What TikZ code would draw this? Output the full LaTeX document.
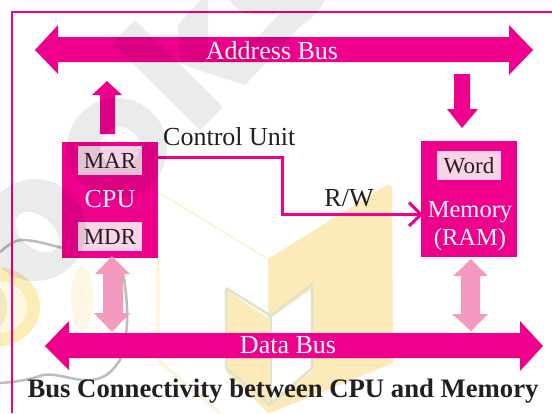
\documentclass[tikz,border=0pt]{standalone}
\usepackage{fontspec}
\setmainfont{Liberation Serif}
\definecolor{bpink}{HTML}{EE008C}
\definecolor{lpink}{HTML}{F49AC1}
\definecolor{pale}{HTML}{FAD3E6}
\definecolor{wgray}{HTML}{EAEBEB}
\definecolor{wyellow}{HTML}{FCEBB9}
\definecolor{wring}{HTML}{FAEDB8}
\definecolor{wpale}{HTML}{FDF8E0}
\definecolor{wline}{HTML}{DDE4CC}
\definecolor{warc}{HTML}{BCBCBC}
\definecolor{tdark}{HTML}{231F20}
\tikzset{
  px/.style={x=1pt,y=-1pt},
  bar/.style={fill=bpink,draw=none},
  pinkarrow/.style={fill=lpink,draw=none},
  regbox/.style={fill=pale,draw=none,minimum width=64pt,minimum height=29pt,inner sep=0pt,text=tdark,font=\fontsize{23}{25}\selectfont},
  unitbox/.style={fill=bpink,draw=none,minimum width=96pt,minimum height=116pt,inner sep=0pt},
  lbl/.style={inner sep=0pt,text=tdark,font=\fontsize{26}{28}\selectfont},
  wlbl/.style={inner sep=0pt,text=white,font=\fontsize{26}{28}\selectfont},
}
\begin{document}
\begin{tikzpicture}[px]
\useasboundingbox (0,0) rectangle (552,413);
\fill[white] (0,0) rectangle (552,413);
% watermark, yellow
\fill[wyellow] (268,259) -- (385,186) .. controls (390,183) and (392,184) .. (392,190) -- (393,363) -- (270,413) -- (268,413) -- cycle;
\fill[wyellow] (226,290) -- (268,318) -- (268,413) -- (226,372) -- cycle;
\fill[white] (270,318) -- (311,290) -- (311,372) -- (270,400) -- cycle;
\draw[wline,line width=2.5pt] (226,288) -- (226,368) -- (270,405) -- (312,368) -- (312,284) -- (271,316) -- (226,288);
\draw[wline,line width=2.5pt] (271,316) -- (271,405);
\draw[wyellow!55,line width=2pt] (158,192) -- (268,259);
\draw[wyellow!55,line width=3pt] (158,258) -- (158,360) -- (220,413);
\fill[wring] (-5,307) ellipse (45pt and 40pt);
\fill[wpale] (0,307) ellipse (27pt and 26pt);
\fill[wyellow!70!wline] (-10,307) ellipse (17pt and 24pt);
\fill[wyellow!40] (82,298) ellipse (11pt and 32pt);
\draw[warc,line width=2.5pt] (0,252) .. controls (8,245) and (15,240) .. (22,240) .. controls (35,240) and (50,245) .. (63,248);
\draw[warc,line width=2.5pt] (123,273) .. controls (128,300) and (130,335) .. (120,360) .. controls (112,372) and (106,376) .. (100,378) .. controls (80,385) and (60,372) .. (43,375) .. controls (25,381) and (12,382) .. (0,383);
% frame
\draw[bpink,line width=2pt] (11.5,413) -- (11.5,12) -- (552,12);
% address bus
\path[bar] (35,50) -- (58,25) -- (58,37) -- (509,37) -- (509,25) -- (533,50) -- (509,75) -- (509,62) -- (58,62) -- (58,74) -- cycle;
\node[wlbl] (addr) at (272,51) {Address Bus};
% data bus
\path[bar] (45,346) -- (69,321) -- (69,333) -- (520,333) -- (520,321) -- (543,346) -- (520,371) -- (520,358) -- (69,358) -- (69,370) -- cycle;
\node[wlbl] (data) at (288,345) {Data Bus};
% units
\node[unitbox,anchor=north west] (cpu) at (62,142) {};
\node[unitbox,anchor=north west] (mem) at (421,141) {};
\node[regbox] (mar) at (110,160.5) {MAR};
\node[regbox] (mdr) at (110,236.5) {MDR};
\node[regbox] (word) at (469,165.5) {\raisebox{-2pt}{Word}};
\node[wlbl] (cpulbl) at (110,199) {CPU};
\node[wlbl,align=center,font=\fontsize{24.5}{28.5}\selectfont] (memlbl) at (470,226) {Memory\\(RAM)};
% block arrows
\path[bar] (107,81) -- (122,95) -- (115,95) -- (115,134) -- (100,134) -- (100,95) -- (92,95) -- cycle;
\path[bar] (454,74) -- (470,74) -- (470,109) -- (478,109) -- (462,128) -- (447,109) -- (454,109) -- cycle;
\path[pinkarrow] (112,256) -- (130,274) -- (123,274) -- (123,313) -- (130,313) -- (112,332) -- (94,313) -- (103,313) -- (103,274) -- (95,274) -- cycle;
\path[pinkarrow] (471,259) -- (488,276) -- (480,276) -- (480,314) -- (488,314) -- (471,331) -- (452,314) -- (461,314) -- (461,276) -- (453,276) -- cycle;
% control line
\coordinate (bend1) at (282,157);
\coordinate (bend2) at (282,214.5);
\coordinate (tip) at (mem.west |- bend2);
\draw[bpink,line width=3pt] (cpu.east |- bend1) -- (bend1) -- (bend2) -- (tip);
\draw[bpink,line width=3pt] (409,202.5) -- (tip) -- (409,226);
% labels
\node[lbl,anchor=west] (cu) at (163,137) {Control Unit};
\node[lbl] (rw) at (349,198) {R/W};
\node[inner sep=0pt,text=tdark,font=\bfseries\fontsize{26.7}{28}\selectfont] (title) at (283,391) {Bus Connectivity between CPU and Memory};
% watermark, gray, multiplied over everything
\begin{scope}[blend mode=multiply]
\fill[wgray] (112,43) -- (135,20) -- (223,107) -- (200,130) -- cycle;
\fill[wgray] (178,25) -- (203,-3) -- (208,-3) -- (208,60) -- (258,37) -- (280,13) .. controls (265,17) and (245,15) .. (240,11) .. controls (235,7) and (230,3) .. (228,-3) -- (327,-3) .. controls (322,8) and (315,16) .. (300,27) -- (245,85) -- (207,73) -- (180,63) -- cycle;
\fill[wgray,even odd rule] (117,148) circle (50pt) (120,147) circle (20pt);
\fill[wgray,even odd rule] (35,230) circle (51pt) (37,232) circle [x radius=25pt,y radius=16pt,rotate=-40];
\end{scope}
\end{tikzpicture}
\end{document}
